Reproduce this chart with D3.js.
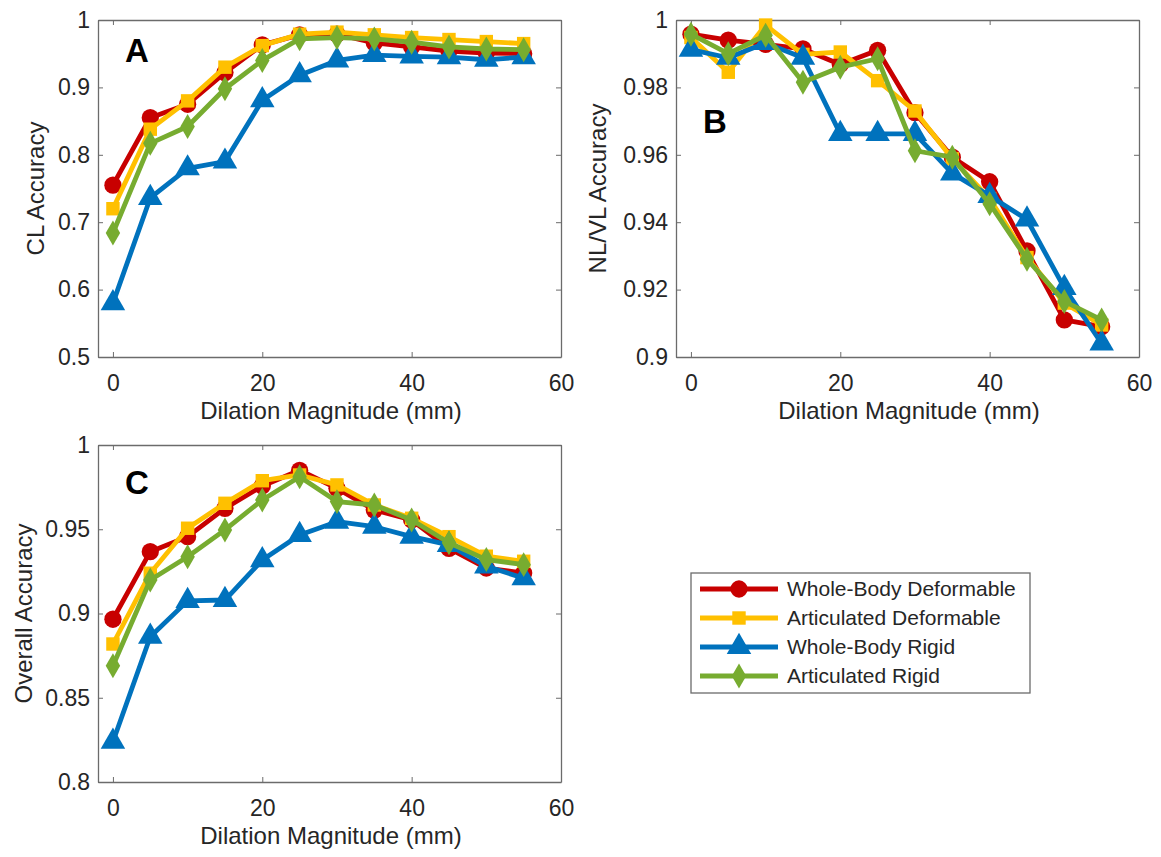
<!DOCTYPE html>
<html>
<head>
<meta charset="utf-8">
<script src="https://cdn.jsdelivr.net/npm/d3@7"></script>
<style>
  body { margin: 0; background: #fff; }
  svg { font-family: "Liberation Sans", Arial, sans-serif; }
  .axis text { fill: #262626; font-size: 23px; }
  .axis path, .axis line { stroke: #6b6b6b; }
  .axis-label { fill: #262626; font-size: 24px; }
  .panel-letter { fill: #000; font-size: 33px; font-weight: bold; }
  .legend text { fill: #262626; font-size: 21px; }
</style>
</head>
<body>
<svg id="fig" width="1161" height="857"></svg>
<script>
// dilation magnitude (mm)
const dilation = [0, 5, 10, 15, 20, 25, 30, 35, 40, 45, 50, 55];
const seriesNames = ['Whole-Body Deformable', 'Articulated Deformable', 'Whole-Body Rigid', 'Articulated Rigid'];
const xTicks = [0, 20, 40, 60];

// A: CL accuracy
const clWholeDeform = [0.755, 0.855, 0.875, 0.922, 0.963, 0.978, 0.979, 0.966, 0.960, 0.954, 0.951, 0.950];
const clArticDeform = [0.720, 0.838, 0.880, 0.930, 0.962, 0.979, 0.982, 0.978, 0.974, 0.971, 0.968, 0.965];
const clWholeRigid  = [0.580, 0.736, 0.780, 0.790, 0.881, 0.918, 0.940, 0.948, 0.946, 0.945, 0.941, 0.945];
const clArticRigid  = [0.684, 0.817, 0.842, 0.898, 0.940, 0.972, 0.974, 0.972, 0.967, 0.960, 0.957, 0.956];
const clTicks = [0.5, 0.6, 0.7, 0.8, 0.9, 1];

// B: NL/VL accuracy
const nlWholeDeform = [0.9958, 0.9940, 0.9928, 0.9914, 0.9868, 0.9910, 0.9725, 0.9593, 0.9520, 0.9315, 0.9110, 0.9090];
const nlArticDeform = [0.9948, 0.9845, 0.9985, 0.9898, 0.9905, 0.9820, 0.9730, 0.9588, 0.9470, 0.9295, 0.9160, 0.9095];
const nlWholeRigid  = [0.9912, 0.9888, 0.9932, 0.9888, 0.9662, 0.9662, 0.9662, 0.9545, 0.9478, 0.9408, 0.9205, 0.9040];
const nlArticRigid  = [0.9958, 0.9900, 0.9955, 0.9815, 0.9860, 0.9885, 0.9612, 0.9593, 0.9455, 0.9290, 0.9165, 0.9110];
const nlTicks = [0.9, 0.92, 0.94, 0.96, 0.98, 1];

// C: overall accuracy
const ovWholeDeform = [0.8966, 0.9367, 0.9456, 0.9624, 0.9757, 0.9850, 0.9743, 0.9614, 0.9555, 0.9387, 0.9270, 0.9240];
const ovArticDeform = [0.8819, 0.9239, 0.9506, 0.9654, 0.9788, 0.9822, 0.9763, 0.9644, 0.9565, 0.9456, 0.9340, 0.9310];
const ovWholeRigid  = [0.8239, 0.8862, 0.9075, 0.9080, 0.9317, 0.9466, 0.9545, 0.9515, 0.9456, 0.9407, 0.9280, 0.9210];
const ovArticRigid  = [0.8690, 0.9199, 0.9337, 0.9496, 0.9674, 0.9812, 0.9664, 0.9644, 0.9555, 0.9420, 0.9320, 0.9290];
const ovTicks = [0.8, 0.85, 0.9, 0.95, 1];

// styling per series (same order as seriesNames)
const colors = ['#c80000', '#ffc000', '#0072bd', '#77ac30'];
const symbols = [d3.symbolCircle, d3.symbolSquare, d3.symbolTriangle, d3.symbolDiamond];
const symbolSizes = [235, 180, 260, 180];

class LinePanel {
  constructor(_config, _series, _yTicks) {
    this.config = {
      parentElement: _config.parentElement,
      left: _config.left,
      top: _config.top,
      width: _config.width || 463,
      height: _config.height || 337,
      yLabel: _config.yLabel,
      yLabelX: _config.yLabelX,
      letter: _config.letter,
      letterY: _config.letterY
    };
    this.series = _series;
    this.yTicks = _yTicks;
    this.initVis();
  }

  initVis() {
    let vis = this;
    const c = vis.config;

    vis.xScale = d3.scaleLinear().domain([-2, 60]).range([0, c.width]);
    vis.yScale = d3.scaleLinear()
        .domain(d3.extent(vis.yTicks))
        .range([c.height, 0]);

    vis.chart = d3.select(c.parentElement).append('g')
        .attr('transform', `translate(${c.left},${c.top})`);

    const fmt = d => String(+d.toFixed(3));

    // bottom + left axes with labels, top + right only ticks (box on)
    vis.chart.append('g')
        .attr('class', 'axis')
        .attr('transform', `translate(0,${c.height})`)
        .call(d3.axisBottom(vis.xScale).tickValues(xTicks).tickSizeInner(-5).tickSizeOuter(0).tickPadding(18).tickFormat(d => d));
    vis.chart.append('g')
        .attr('class', 'axis')
        .call(d3.axisTop(vis.xScale).tickValues(xTicks).tickSizeInner(-5).tickSizeOuter(0).tickFormat(''));
    vis.chart.append('g')
        .attr('class', 'axis')
        .call(d3.axisLeft(vis.yScale).tickValues(vis.yTicks).tickSizeInner(-5).tickSizeOuter(0).tickPadding(8).tickFormat(fmt));
    vis.chart.append('g')
        .attr('class', 'axis')
        .attr('transform', `translate(${c.width},0)`)
        .call(d3.axisRight(vis.yScale).tickValues(vis.yTicks).tickSizeInner(-5).tickSizeOuter(0).tickFormat(''));

    vis.chart.selectAll('.axis path').attr('stroke-width', 1.3);

    vis.chart.append('text')
        .attr('class', 'axis-label')
        .attr('text-anchor', 'middle')
        .attr('x', vis.xScale(30) - 6)
        .attr('y', c.height + 62)
        .text('Dilation Magnitude (mm)');

    vis.chart.append('text')
        .attr('class', 'axis-label')
        .attr('text-anchor', 'middle')
        .attr('transform', `translate(${c.yLabelX},${c.height / 2}) rotate(-90)`)
        .text(c.yLabel);

    vis.chart.append('text')
        .attr('class', 'panel-letter')
        .attr('x', 27)
        .attr('y', c.letterY)
        .text(c.letter);

    vis.renderVis();
  }

  renderVis() {
    let vis = this;

    const line = d3.line()
        .x((d, i) => vis.xScale(dilation[i]))
        .y(d => vis.yScale(d));

    const groups = vis.chart.selectAll('.series')
        .data(vis.series)
      .join('g')
        .attr('class', 'series');

    groups.append('path')
        .attr('d', d => line(d))
        .attr('fill', 'none')
        .attr('stroke', (d, i) => colors[i])
        .attr('stroke-width', 4.8)
        .attr('stroke-linejoin', 'round');

    groups.each(function(values, si) {
      d3.select(this).selectAll('.marker')
          .data(values)
        .join('path')
          .attr('class', 'marker')
          .attr('transform', (d, i) => `translate(${vis.xScale(dilation[i])},${vis.yScale(d)})`)
          .attr('d', d3.symbol().type(symbols[si]).size(symbolSizes[si]))
          .attr('fill', colors[si]);
    });
  }
}

const svg = d3.select('#fig');

new LinePanel({parentElement: '#fig', left: 98, top: 20, yLabel: 'CL Accuracy', yLabelX: -54, letter: 'A', letterY: 42},
  [clWholeDeform, clArticDeform, clWholeRigid, clArticRigid], clTicks);
new LinePanel({parentElement: '#fig', left: 676, top: 20, yLabel: 'NL/VL Accuracy', yLabelX: -70, letter: 'B', letterY: 113},
  [nlWholeDeform, nlArticDeform, nlWholeRigid, nlArticRigid], nlTicks);
new LinePanel({parentElement: '#fig', left: 98, top: 445, yLabel: 'Overall Accuracy', yLabelX: -66, letter: 'C', letterY: 49},
  [ovWholeDeform, ovArticDeform, ovWholeRigid, ovArticRigid], ovTicks);

// legend
const legend = svg.append('g').attr('class', 'legend').attr('transform', 'translate(691,573)');
legend.append('rect')
    .attr('width', 339).attr('height', 120)
    .attr('fill', '#fff').attr('stroke', '#6b6b6b').attr('stroke-width', 1.3);

const rows = legend.selectAll('.row')
    .data(seriesNames)
  .join('g')
    .attr('class', 'row')
    .attr('transform', (d, i) => `translate(0,${16 + i * 29})`);
rows.append('line')
    .attr('x1', 9).attr('x2', 87)
    .attr('stroke', (d, i) => colors[i]).attr('stroke-width', 4.8);
rows.append('path')
    .attr('transform', 'translate(48,0)')
    .attr('d', (d, i) => d3.symbol().type(symbols[i]).size(symbolSizes[i])())
    .attr('fill', (d, i) => colors[i]);
rows.append('text')
    .attr('x', 96).attr('dy', '0.35em')
    .text(d => d);
</script>
</body>
</html>
